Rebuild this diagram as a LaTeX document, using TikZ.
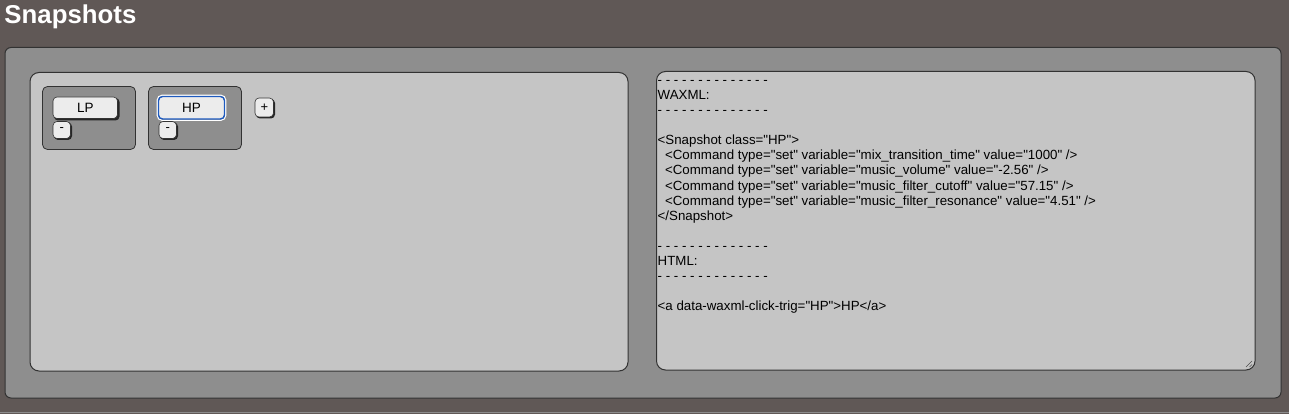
\documentclass[tikz,border=0pt]{standalone}
\usepackage{fontspec}
\setmainfont{Liberation Sans}
\def\qt{\XeTeXglyph\XeTeXcharglyph34 }
\definecolor{pagebg}{RGB}{96,88,86}
\definecolor{panel}{RGB}{142,142,142}
\definecolor{inner}{RGB}{197,197,197}
\definecolor{edge}{RGB}{50,50,50}
\definecolor{btn}{RGB}{236,236,236}
\definecolor{focus}{RGB}{30,90,190}
\tikzset{
  x=1pt,y=-1pt,
  panelbox/.style={draw=edge,line width=1pt,fill=panel,rounded corners=6pt},
  innerbox/.style={draw=edge,line width=1pt,fill=inner,rounded corners=9pt},
  snapbox/.style={draw=edge,line width=0.8pt,fill=panel,rounded corners=5pt},
  btnshadow/.style={fill=black!85,rounded corners=4pt},
  btnface/.style={draw=black!80,line width=0.6pt,fill=btn,rounded corners=4pt},
  codeline/.style={anchor=base west,inner sep=0pt,font=\fontsize{13.3}{15}\selectfont,text=black},
  btnlabel/.style={inner sep=0pt,font=\fontsize{13.5}{15}\selectfont,text=black},
}
\begin{document}
\begin{tikzpicture}
\fill[pagebg] (0,0) rectangle (1289,414);
\useasboundingbox (0,0) rectangle (1289,414);
\draw[black!45,line width=1pt] (0,412) -- (1289,412);
% title
\node[anchor=base west,inner sep=0pt,text=white,font=\fontsize{25.8}{28}\selectfont\bfseries] (title) at (4.3,24) {Snapshots};
% panels
\draw[panelbox] (5,47.5) rectangle (1281,398) coordinate (outerbr);
\draw[innerbox] (30,72.5) rectangle (628,371);
\draw[innerbox] (656.5,71.5) rectangle (1255,370);
% resize grip
\draw[black!70,line width=0.6pt] (1252,361) -- (1246,367) (1252,364.5) -- (1249.5,367);
% snapshot boxes
\draw[snapbox] (42.5,86.5) rectangle (135.5,149.5);
\draw[snapbox] (148.5,86.5) rectangle (241.5,149.5);
% LP buttons
\fill[btnshadow] (54,98) rectangle (119.5,120.5);
\draw[btnface] (53,97) rectangle (117.5,118.5);
\node[btnlabel] (lp) at (85.3,107.8) {LP};
\fill[btnshadow] (54,122.5) rectangle (72,140);
\draw[btnface] (53,121.5) rectangle (70.5,138.5);
\node[btnlabel,font=\fontsize{13}{15}\selectfont] (lpminus) at (61.8,130) {-};
% HP buttons
\draw[white,line width=1.2pt,rounded corners=5pt] (157.2,95.2) rectangle (225.8,120.3);
\draw[btnface,draw=focus,line width=1.4pt] (158.5,96.5) rectangle (224.5,119);
\node[btnlabel] (hp) at (191.5,107.8) {HP};
\fill[btnshadow] (160,122.5) rectangle (178,140);
\draw[btnface] (159,121.5) rectangle (176.5,138.5);
\node[btnlabel,font=\fontsize{13}{15}\selectfont] (hpminus) at (167.8,130) {-};
% plus
\fill[btnshadow] (256,99) rectangle (275,118.5);
\draw[btnface] (255,98) rectangle (273.5,117);
\node[btnlabel,font=\fontsize{13}{15}\selectfont] (plus) at (264.3,107.3) {+};
% code text
\node[codeline] (t1) at (657.5,85) {- - - - - - - - - - - - - -};
\node[codeline] (t2) at (657.5,100) {WAXML:};
\node[codeline] (t3) at (657.5,115) {- - - - - - - - - - - - - -};
\node[codeline] (t5) at (657.5,145) {<Snapshot class=\qt HP\qt>};
\node[codeline] (t6) at (657.5,160) {\ \ <Command type=\qt set\qt\ variable=\qt mix\_transition\_time\qt\ value=\qt 1000\qt\ />};
\node[codeline] (t7) at (657.5,175) {\ \ <Command type=\qt set\qt\ variable=\qt music\_volume\qt\ value=\qt -2.56\qt\ />};
\node[codeline] (t8) at (657.5,190) {\ \ <Command type=\qt set\qt\ variable=\qt music\_filter\_cutoff\qt\ value=\qt 57.15\qt\ />};
\node[codeline] (t9) at (657.5,205) {\ \ <Command type=\qt set\qt\ variable=\qt music\_filter\_resonance\qt\ value=\qt 4.51\qt\ />};
\node[codeline] (t10) at (657.5,220) {</Snapshot>};
\node[codeline] (t12) at (657.5,250) {- - - - - - - - - - - - - -};
\node[codeline] (t13) at (657.5,265) {HTML:};
\node[codeline] (t14) at (657.5,280) {- - - - - - - - - - - - - -};
\node[codeline] (t16) at (657.5,310) {<a data-waxml-click-trig=\qt HP\qt>HP</a>};
\end{tikzpicture}
\end{document}
